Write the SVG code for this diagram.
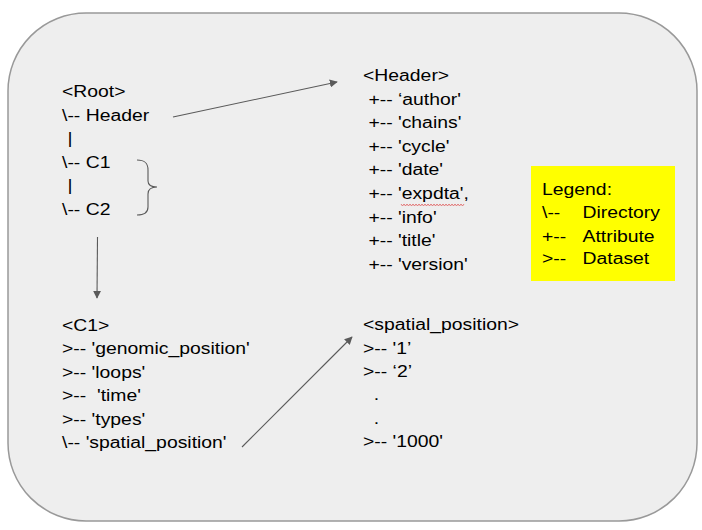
<svg xmlns="http://www.w3.org/2000/svg" width="702" height="530" viewBox="0 0 702 530">
<style>
text{font-family:"Liberation Sans",Arial,sans-serif;font-size:17.3px;fill:#000;white-space:pre}
.conn{stroke:#5a5a5a;stroke-width:1.1;fill:none}
</style>
<defs>
<marker id="ah" viewBox="0 0 10 10" refX="9" refY="5" markerWidth="8" markerHeight="8" markerUnits="userSpaceOnUse" orient="auto">
<path d="M0,0 L10,5 L0,10 z" fill="#5a5a5a"/>
</marker>
</defs>
<rect id="frame" x="8" y="13" width="689" height="508" rx="78" ry="78" fill="#eeeeee" stroke="#999999" stroke-width="1.5"/>
<g id="root" transform="translate(62,0) scale(1.12,1)">
<text x="0" y="97">&lt;Root&gt;</text>
<text x="0" y="120.6">\-- Header</text>
<text x="0" y="144.2"> |</text>
<text x="0" y="167.8">\-- C1</text>
<text x="0" y="191.4"> |</text>
<text x="0" y="215">\-- C2</text>
</g>
<g id="header" transform="translate(363,0) scale(1.12,1)">
<text x="0" y="81">&lt;Header&gt;</text>
<text x="0" y="104.6"> +-- ‘author'</text>
<text x="0" y="128.2"> +-- 'chains'</text>
<text x="0" y="151.8"> +-- 'cycle'</text>
<text x="0" y="175.4"> +-- 'date'</text>
<text x="0" y="199"> +-- 'expdta',</text>
<text x="0" y="222.6"> +-- 'info'</text>
<text x="0" y="246.2"> +-- 'title'</text>
<text x="0" y="269.8"> +-- 'version'</text>
</g>
<polyline id="spellcheck" points="401,204 402.5,206 404,204 405.5,206 407,204 408.5,206 410,204 411.5,206 413,204 414.5,206 416,204 417.5,206 419,204 420.5,206 422,204 423.5,206 425,204 426.5,206 428,204 429.5,206 431,204 432.5,206 434,204 435.5,206 437,204 438.5,206 440,204 441.5,206 443,204 444.5,206 446,204 447.5,206 449,204 450.5,206 452,204 453.5,206 455,204 456.5,206 458,204 459.5,206 461,204 462.5,206 464,204" fill="none" stroke="#e06060" stroke-width="0.8"/>
<g id="legend">
<rect x="531" y="166" width="144" height="115" fill="#ffff00"/>
<g transform="translate(542,0) scale(1.12,1)">
<text x="0" y="195">Legend:</text>
<text x="0" y="218.3">\--</text>
<text x="0" y="241.6">+--</text>
<text x="0" y="264.5">&gt;--</text>
</g>
<g transform="translate(582.5,0) scale(1.12,1)">
<text x="0" y="218.3">Directory</text>
<text x="0" y="241.6">Attribute</text>
<text x="0" y="264.5">Dataset</text>
</g>
</g>
<g id="c1" transform="translate(62,0) scale(1.12,1)">
<text x="0" y="331">&lt;C1&gt;</text>
<text x="0" y="354.5">&gt;-- 'genomic_position'</text>
<text x="0" y="378">&gt;-- 'loops'</text>
<text x="0" y="401.5">&gt;--  'time'</text>
<text x="0" y="425">&gt;-- 'types'</text>
<text x="0" y="448.5">\-- 'spatial_position'</text>
</g>
<g id="spatial" transform="translate(363,0) scale(1.12,1)">
<text x="0" y="330.5">&lt;spatial_position&gt;</text>
<text x="0" y="354">&gt;-- '1’</text>
<text x="0" y="377">&gt;-- ‘2’</text>
<text x="0" y="400.5">  .</text>
<text x="0" y="424">  .</text>
<text x="0" y="447.5">&gt;-- '1000'</text>
</g>
<g id="connectors">
<line class="conn" x1="173" y1="117" x2="337" y2="82" marker-end="url(#ah)"/>
<line class="conn" x1="97.5" y1="237" x2="97" y2="298" marker-end="url(#ah)"/>
<line class="conn" x1="242" y1="447" x2="352" y2="337" marker-end="url(#ah)"/>
<path class="conn" stroke="#707070" d="M137,160 C145,160 148,163 148,170 L148,181 C148,185 152,187 157,187 C152,187 148,189 148,194 L148,207 C148,212 145,215 137,215"/>
</g>
</svg>
